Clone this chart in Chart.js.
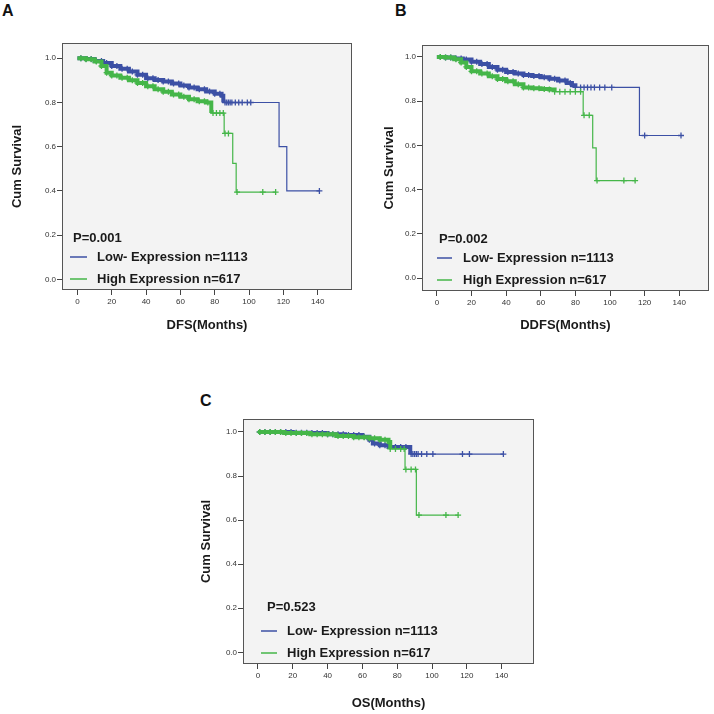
<!DOCTYPE html>
<html>
<head>
<meta charset="utf-8">
<script src="https://cdn.jsdelivr.net/npm/chart.js@4.4.1/dist/chart.umd.min.js"></script>
<style>
    body { margin: 0; background: #fff; width: 714px; height: 714px; position: relative; overflow: hidden;
           font-family: "Liberation Sans", Arial, sans-serif; }
    canvas { position: absolute; }
    .panel { position: absolute; font-weight: bold; font-size: 16px; color: #111; }
</style>
</head>
<body>
<div class="panel" style="left:2px;top:2px">A</div>
<div class="panel" style="left:395px;top:2px">B</div>
<div class="panel" style="left:200px;top:392px">C</div>
<canvas id="chartA" width="360" height="330" style="left:0;top:25px"></canvas>
<canvas id="chartB" width="354" height="330" style="left:360px;top:25px"></canvas>
<canvas id="chartC" width="360" height="334" style="left:180px;top:380px"></canvas>
<script>
// Ticks & labels
const xTicks = [0, 20, 40, 60, 80, 100, 120, 140];
const yTicks = [0.0, 0.2, 0.4, 0.6, 0.8, 1.0];
const seriesNames = ['Low- Expression n=1113', 'High Expression n=617'];
const pValues = ['P=0.001', 'P=0.002', 'P=0.523'];
const xTitles = ['DFS(Months)', 'DDFS(Months)', 'OS(Months)'];
const yTitle = 'Cum Survival';

// --------------------------------------------------------------------------
// DFS (A) : temps (mois) / survie cumulée / censures
const dfsLowT = [0, 5, 10, 15, 20, 25, 30, 35, 40, 45, 50, 55, 60, 65, 70, 75, 80, 84, 85, 117.5, 122, 141];
const dfsLowS = [1, 0.997, 0.988, 0.978, 0.965, 0.953, 0.94, 0.925, 0.91, 0.902, 0.895, 0.886, 0.877, 0.868, 0.86, 0.85, 0.84, 0.83, 0.80, 0.60, 0.40, 0.40];
const dfsLowCens = [2, 5, 8, 11, 14, 17, 20, 23, 26, 29, 32, 35, 38, 41, 44, 47, 50, 53, 56, 59, 62, 65, 68, 71, 74, 77, 80, 83, 86, 87, 88, 89, 90, 92, 94, 96, 99, 101, 141];
const dfsHighT = [0, 5, 10, 14, 17, 20, 25, 30, 35, 40, 45, 50, 55, 60, 65, 70, 75, 78, 85.5, 90.5, 92.5, 115.5];
const dfsHighS = [1, 0.996, 0.985, 0.965, 0.935, 0.922, 0.912, 0.90, 0.888, 0.873, 0.86, 0.848, 0.836, 0.826, 0.815, 0.806, 0.80, 0.752, 0.66, 0.525, 0.395, 0.395];
const dfsHighCens = [2, 5, 8, 11, 14, 17, 20, 23, 26, 29, 32, 35, 38, 41, 44, 47, 50, 53, 56, 59, 62, 65, 68, 71, 74, 76, 79, 81, 83, 85, 86, 88, 93, 108, 115.5];

// DDFS (B)
const ddfsLowT = [0, 5, 10, 15, 20, 25, 30, 35, 40, 45, 50, 55, 60, 65, 70, 75, 78, 80, 117, 141];
const ddfsLowS = [1, 0.998, 0.993, 0.988, 0.978, 0.968, 0.955, 0.942, 0.932, 0.925, 0.918, 0.914, 0.908, 0.902, 0.893, 0.882, 0.872, 0.862, 0.645, 0.645];
const ddfsLowCens = [2, 5, 8, 11, 14, 17, 20, 23, 26, 29, 32, 35, 38, 41, 44, 47, 50, 53, 56, 59, 62, 65, 68, 71, 74, 77, 80, 83, 85, 87, 89, 91, 94, 97, 101, 120, 141];
const ddfsHighT = [0, 5, 10, 14, 17, 20, 25, 30, 35, 40, 45, 50, 55, 60, 65, 68, 84.5, 90, 92, 114.5];
const ddfsHighS = [1, 0.997, 0.99, 0.975, 0.955, 0.935, 0.925, 0.913, 0.90, 0.89, 0.877, 0.862, 0.858, 0.855, 0.853, 0.843, 0.736, 0.589, 0.441, 0.441];
const ddfsHighCens = [2, 5, 8, 11, 14, 17, 20, 23, 26, 29, 32, 35, 38, 41, 44, 47, 50, 53, 56, 59, 62, 65, 68, 71, 74, 77, 80, 83, 85, 88, 92.5, 108, 114.5];

// OS (C)
const osLowT = [0, 20, 30, 40, 50, 60, 64, 66, 70, 75, 87.5, 141];
const osLowS = [1, 0.997, 0.995, 0.99, 0.986, 0.978, 0.965, 0.948, 0.94, 0.932, 0.90, 0.90];
const osLowCens = [1, 4, 7, 10, 13, 16, 19, 22, 25, 28, 31, 34, 37, 40, 43, 46, 49, 52, 55, 58, 61, 64, 67, 70, 73, 76, 79, 82, 85, 88, 89, 90, 91, 92, 94, 97, 100.5, 117.5, 121.5, 141];
const osHighT = [0, 15, 30, 45, 55, 64, 70, 75, 76, 84.5, 91, 115];
const osHighS = [1, 0.996, 0.99, 0.982, 0.976, 0.972, 0.965, 0.955, 0.923, 0.83, 0.623, 0.623];
const osHighCens = [1, 4, 7, 10, 13, 16, 19, 22, 25, 28, 31, 34, 37, 40, 43, 46, 49, 52, 55, 58, 61, 64, 67, 70, 73, 76, 79, 82, 84, 85, 88, 90.5, 92.5, 108, 115];

// --------------------------------------------------------------------------
const FONT = '"Liberation Sans", Arial, sans-serif';
const BLUE = '#3c50a5';
const GREEN = '#45b649';

// survie au temps t (fonction en escalier)
const survAt = (T, S, t) => {
    let s = S[0];
    T.forEach((tt, i) => { if (tt <= t) s = S[i]; });
    return s;
};

const stepPoints = (T, S) => T.map((t, i) => ({ x: t, y: S[i] }));
const censPoints = (T, S, C) => C.map(t => ({ x: t, y: survAt(T, S, t) }));

// Fond gris, cadre et légende dans la zone du graphique
const kmFrame = {
    id: 'kmFrame',
    beforeDraw(chart) {
        const { ctx, chartArea: a } = chart;
        ctx.save();
        ctx.fillStyle = '#f3f3f3';
        ctx.fillRect(a.left, a.top, a.width, a.height);
        ctx.restore();
    },
    afterDraw(chart, args, o) {
        const { ctx, chartArea: a } = chart;
        ctx.save();
        ctx.strokeStyle = '#555';
        ctx.lineWidth = 1;
        ctx.strokeRect(Math.round(a.left) + 0.5, Math.round(a.top) + 0.5, Math.round(a.width) - 1, Math.round(a.height) - 1);
        ctx.font = `bold 13px ${FONT}`;
        ctx.fillStyle = '#1a1a1a';
        ctx.textBaseline = 'middle';
        ctx.fillText(o.p, a.left + o.pX, a.bottom + o.pY);
        [[BLUE, o.lowY, seriesNames[0]], [GREEN, o.highY, seriesNames[1]]].forEach(([c, dy, txt]) => {
            ctx.strokeStyle = c;
            ctx.lineWidth = 1.5;
            ctx.beginPath();
            ctx.moveTo(a.left + o.l0, a.bottom + dy);
            ctx.lineTo(a.left + o.l1, a.bottom + dy);
            ctx.stroke();
            ctx.fillText(txt, a.left + o.tX, a.bottom + dy);
        });
        ctx.restore();
    }
};

// une courbe : escalier épais là où les censures sont denses, puis trait fin
const curveSets = (s, color, order) => [
    { data: censPoints(s.T, s.S, s.C), pointStyle: 'cross', pointRadius: 3, borderWidth: 1.3,
      borderColor: color, showLine: false, order },
    { data: stepPoints(s.T, s.S), showLine: true, stepped: 'before', pointRadius: 0,
      borderColor: color, borderWidth: 1.2, order: order + 1,
      segment: { borderWidth: c => (c.p1.parsed.x <= s.dense ? 4 : 1.2) } }
];

const createKmChart = (id, p, low, high) => {
    const ctx = document.getElementById(id).getContext('2d');
    new Chart(ctx, {
        type: 'scatter',
        data: { datasets: [...curveSets(high, GREEN, 1), ...curveSets(low, BLUE, 3)] },
        options: {
            responsive: false,
            animation: false,
            layout: { padding: { top: p.padTop, right: p.padRight, left: 0, bottom: 0 } },
            plugins: {
                legend: { display: false },
                tooltip: { enabled: false },
                kmFrame: p.legend
            },
            scales: {
                x: {
                    type: 'linear', min: p.xMin, max: p.xMax,
                    afterBuildTicks: s => { s.ticks = xTicks.map(v => ({ value: v })); },
                    afterFit: s => { s.height = p.xAxisH; },
                    grid: { drawOnChartArea: false, tickLength: 5, color: '#444' },
                    border: { display: false },
                    ticks: { font: { size: 8, family: FONT }, color: '#333', padding: 2, maxRotation: 0, autoSkip: false },
                    title: { display: true, text: p.xTitle, color: '#1a1a1a',
                             font: { size: 13, weight: 'bold', family: FONT }, padding: { top: 0, bottom: p.xTitlePad } }
                },
                y: {
                    type: 'linear', min: p.yMin, max: p.yMax,
                    afterBuildTicks: s => { s.ticks = yTicks.map(v => ({ value: v })); },
                    afterFit: s => { s.width = p.yAxisW; },
                    grid: { drawOnChartArea: false, tickLength: 5, color: '#444' },
                    border: { display: false },
                    ticks: { font: { size: 8, family: FONT }, color: '#333', padding: 1, callback: v => v.toFixed(1) },
                    title: { display: true, text: yTitle, color: '#1a1a1a',
                             font: { size: 13, weight: 'bold', family: FONT }, padding: { top: p.yTitlePad, bottom: 0 } }
                }
            }
        },
        plugins: [kmFrame]
    });
};

// --------------------------------------------------------------------------
createKmChart('chartA', {
    padTop: 18, padRight: 8, xAxisH: 65, yAxisW: 62, xTitlePad: 22, yTitlePad: 10,
    xMin: -9, xMax: 160, yMin: -0.048, yMax: 1.069, xTitle: xTitles[0],
    legend: { p: pValues[0], pX: 11, pY: -52, l0: 8, l1: 25, tX: 35, lowY: -33, highY: -11 }
}, { T: dfsLowT, S: dfsLowS, C: dfsLowCens, dense: 85 }, { T: dfsHighT, S: dfsHighS, C: dfsHighCens, dense: 78 });

createKmChart('chartB', {
    padTop: 20, padRight: 2, xAxisH: 64, yAxisW: 62, xTitlePad: 22, yTitlePad: 22,
    xMin: -8.6, xMax: 157, yMin: -0.058, yMax: 1.054, xTitle: xTitles[1],
    legend: { p: pValues[1], pX: 17, pY: -52, l0: 15, l1: 30, tX: 41, lowY: -33, highY: -11 }
}, { T: ddfsLowT, S: ddfsLowS, C: ddfsLowCens, dense: 80 }, { T: ddfsHighT, S: ddfsHighS, C: ddfsHighCens, dense: 68 });

createKmChart('chartC', {
    padTop: 39, padRight: 6, xAxisH: 50, yAxisW: 63, xTitlePad: 3, yTitlePad: 19,
    xMin: -8.6, xMax: 158.6, yMin: -0.053, yMax: 1.059, xTitle: xTitles[2],
    legend: { p: pValues[2], pX: 24, pY: -57, l0: 18, l1: 34, tX: 44, lowY: -33, highY: -11 }
}, { T: osLowT, S: osLowS, C: osLowCens, dense: 87.5 }, { T: osHighT, S: osHighS, C: osHighCens, dense: 76 });
</script>
</body>
</html>
